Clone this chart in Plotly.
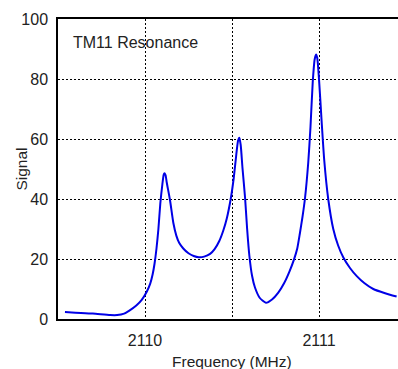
import plotly.graph_objects as go

freq = [2109.54, 2109.6, 2109.7, 2109.8, 2109.84, 2109.88, 2109.91, 2109.95, 2109.98, 2110.01,
        2110.03, 2110.044, 2110.055, 2110.066, 2110.077, 2110.088, 2110.1, 2110.107, 2110.111,
        2110.118, 2110.125, 2110.144, 2110.163, 2110.18, 2110.197, 2110.22, 2110.25, 2110.28,
        2110.31, 2110.34, 2110.374, 2110.4, 2110.427, 2110.45, 2110.47, 2110.494, 2110.51,
        2110.525, 2110.535, 2110.542, 2110.55, 2110.56, 2110.575, 2110.587, 2110.6, 2110.615,
        2110.632, 2110.66, 2110.695, 2110.73, 2110.766, 2110.8, 2110.83, 2110.856, 2110.875,
        2110.89, 2110.905, 2110.92, 2110.938, 2110.951, 2110.964, 2110.975, 2110.983, 2110.99,
        2111.0, 2111.015, 2111.03, 2111.053, 2111.082, 2111.11, 2111.14, 2111.178, 2111.217,
        2111.26, 2111.312, 2111.38, 2111.446]
signal = [2.3, 2.1, 1.8, 1.3, 1.3, 1.8, 2.8, 4.5, 6.3, 9.1,
          11.8, 14.9, 18.5, 23.5, 30.0, 38.5, 45.0, 48.0, 48.6,
          48.0, 45.5, 39.5, 32.0, 27.8, 25.3, 23.5, 21.9, 21.0,
          20.6, 20.8, 21.7, 23.3, 26.0, 29.5, 33.5, 40.5, 47.0,
          55.0, 59.5, 60.4, 58.0, 50.5, 40.5, 30.0, 21.0, 14.5,
          10.5, 7.0, 5.4, 6.5, 8.8, 12.0, 15.8, 19.8, 23.5,
          28.5, 34.0, 40.5, 52.0, 64.0, 79.0, 86.5, 88.2, 87.0,
          80.0, 66.0, 53.0, 40.0, 30.0, 24.5, 20.5, 17.0, 14.3,
          12.0, 10.0, 8.6, 7.5]

x_ticks = [2110, 2110.5, 2111]
x_ticktext = ["2110", "", "2111"]
y_ticks = [0, 20, 40, 60, 80, 100]

font = "Liberation Sans, Arial, sans-serif"

fig = go.Figure()
fig.add_trace(go.Scatter(x=freq, y=signal, mode="lines",
                         line=dict(color="#0000e6", width=2, shape="spline", smoothing=0.6),
                         showlegend=False))

fig.update_layout(
    width=398, height=369,
    margin=dict(l=58, r=0, t=19, b=50),
    paper_bgcolor="white", plot_bgcolor="white",
    font=dict(family=font, size=16, color="#222"),
    xaxis=dict(range=[2109.5, 2111.454], tickvals=x_ticks, ticktext=x_ticktext,
               tickfont=dict(size=16),
               showgrid=True, gridcolor="black", griddash="2px,2px", gridwidth=1,
               showline=True, linecolor="black", linewidth=1.5, mirror=True,
               ticks="outside", ticklen=6, tickcolor="rgba(0,0,0,0)",
               zeroline=False),
    yaxis=dict(range=[0, 100], tickvals=y_ticks,
               tickfont=dict(size=16),
               showgrid=True, gridcolor="black", griddash="2px,2px", gridwidth=1,
               showline=True, linecolor="black", linewidth=1.5, mirror=False,
               ticks="outside", ticklen=5, tickcolor="rgba(0,0,0,0)",
               zeroline=False),
    annotations=[
        dict(text="TM11 Resonance", x=0.038, y=0.92, xref="paper", yref="paper",
             xanchor="left", yanchor="middle", showarrow=False,
             font=dict(size=16, color="#222")),
        dict(text="Frequency (MHz)", x=0.513, y=-0.1433, xref="paper", yref="paper",
             xanchor="center", yanchor="middle", showarrow=False,
             font=dict(size=15.5, color="#222")),
        dict(text="Signal", x=-0.11, y=0.5, xref="paper", yref="paper", textangle=-90,
             xanchor="center", yanchor="middle", showarrow=False,
             font=dict(size=15.5, color="#222")),
    ],
)

fig.write_html("out.html")
